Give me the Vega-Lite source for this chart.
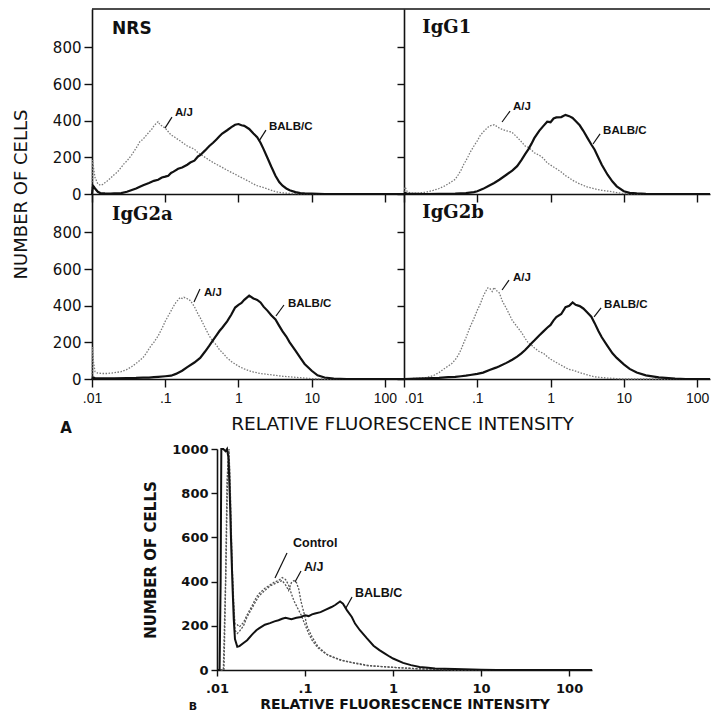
{
"$schema": "https://vega.github.io/schema/vega-lite/v6.json",
"padding": {"left": 12, "top": 8, "right": 0, "bottom": 0},
"background": "white",
"config": {
  "font": "DejaVu Sans",
  "view": {"stroke": null},
  "axis": {"grid": false, "domainColor": "#111", "domainWidth": 1.6, "tickColor": "#111", "tickWidth": 1.4, "labelColor": "#111", "titleColor": "#111", "labelFlush": false, "labelOverlap": false, "titleFontWeight": "normal", "labelFont": "DejaVu Sans", "titleFont": "DejaVu Sans"},
  "text": {"color": "#111"}
},
"datasets": {
  "NRS_AJ": [{"x":0.01,"n":15},{"x":0.0102,"n":185},{"x":0.0106,"n":130},{"x":0.011,"n":90},{"x":0.012,"n":55},{"x":0.013,"n":48},{"x":0.014,"n":52},{"x":0.015,"n":62},{"x":0.016,"n":70},{"x":0.018,"n":88},{"x":0.02,"n":105},{"x":0.022,"n":118},{"x":0.025,"n":145},{"x":0.028,"n":170},{"x":0.03,"n":180},{"x":0.035,"n":215},{"x":0.04,"n":250},{"x":0.045,"n":285},{"x":0.05,"n":300},{"x":0.055,"n":320},{"x":0.06,"n":338},{"x":0.065,"n":352},{"x":0.07,"n":372},{"x":0.075,"n":385},{"x":0.08,"n":395},{"x":0.085,"n":378},{"x":0.09,"n":372},{"x":0.1,"n":360},{"x":0.11,"n":340},{"x":0.12,"n":322},{"x":0.13,"n":315},{"x":0.14,"n":305},{"x":0.15,"n":298},{"x":0.17,"n":282},{"x":0.2,"n":262},{"x":0.22,"n":255},{"x":0.25,"n":245},{"x":0.28,"n":225},{"x":0.3,"n":218},{"x":0.35,"n":200},{"x":0.4,"n":185},{"x":0.45,"n":172},{"x":0.5,"n":162},{"x":0.6,"n":145},{"x":0.7,"n":130},{"x":0.8,"n":118},{"x":0.9,"n":108},{"x":1,"n":98},{"x":1.2,"n":82},{"x":1.4,"n":68},{"x":1.6,"n":55},{"x":1.8,"n":45},{"x":2,"n":40},{"x":2.5,"n":28},{"x":3,"n":16},{"x":3.5,"n":10},{"x":4,"n":6},{"x":5,"n":3},{"x":7,"n":1},{"x":10,"n":0},{"x":100,"n":0},{"x":182,"n":0}],
  "NRS_BALBC": [{"x":0.01,"n":0},{"x":0.0103,"n":45},{"x":0.0106,"n":40},{"x":0.011,"n":30},{"x":0.012,"n":12},{"x":0.013,"n":5},{"x":0.015,"n":3},{"x":0.018,"n":2},{"x":0.02,"n":3},{"x":0.025,"n":5},{"x":0.03,"n":12},{"x":0.035,"n":22},{"x":0.04,"n":30},{"x":0.045,"n":40},{"x":0.05,"n":48},{"x":0.06,"n":60},{"x":0.07,"n":72},{"x":0.08,"n":78},{"x":0.09,"n":90},{"x":0.1,"n":95},{"x":0.11,"n":100},{"x":0.12,"n":115},{"x":0.13,"n":122},{"x":0.15,"n":138},{"x":0.17,"n":145},{"x":0.2,"n":160},{"x":0.22,"n":172},{"x":0.25,"n":182},{"x":0.28,"n":205},{"x":0.3,"n":212},{"x":0.35,"n":238},{"x":0.4,"n":262},{"x":0.45,"n":280},{"x":0.5,"n":298},{"x":0.55,"n":315},{"x":0.6,"n":330},{"x":0.7,"n":348},{"x":0.8,"n":365},{"x":0.9,"n":378},{"x":1,"n":382},{"x":1.1,"n":375},{"x":1.2,"n":372},{"x":1.4,"n":355},{"x":1.6,"n":330},{"x":1.8,"n":310},{"x":2,"n":280},{"x":2.2,"n":245},{"x":2.5,"n":195},{"x":2.8,"n":150},{"x":3.2,"n":100},{"x":3.6,"n":65},{"x":4,"n":45},{"x":4.5,"n":30},{"x":5,"n":20},{"x":6,"n":10},{"x":7,"n":5},{"x":8,"n":3},{"x":10,"n":2},{"x":15,"n":0},{"x":182,"n":0}],
  "IGG1_AJ": [{"x":0.01,"n":10},{"x":0.0103,"n":38},{"x":0.0106,"n":30},{"x":0.011,"n":15},{"x":0.012,"n":6},{"x":0.014,"n":4},{"x":0.016,"n":5},{"x":0.018,"n":8},{"x":0.02,"n":10},{"x":0.022,"n":14},{"x":0.025,"n":20},{"x":0.028,"n":26},{"x":0.03,"n":30},{"x":0.035,"n":42},{"x":0.04,"n":55},{"x":0.045,"n":68},{"x":0.05,"n":80},{"x":0.055,"n":105},{"x":0.06,"n":130},{"x":0.065,"n":160},{"x":0.07,"n":182},{"x":0.075,"n":205},{"x":0.08,"n":228},{"x":0.09,"n":262},{"x":0.1,"n":290},{"x":0.11,"n":320},{"x":0.12,"n":338},{"x":0.13,"n":352},{"x":0.14,"n":365},{"x":0.15,"n":372},{"x":0.17,"n":378},{"x":0.18,"n":372},{"x":0.2,"n":360},{"x":0.22,"n":352},{"x":0.25,"n":345},{"x":0.28,"n":340},{"x":0.3,"n":335},{"x":0.35,"n":310},{"x":0.4,"n":285},{"x":0.45,"n":262},{"x":0.5,"n":255},{"x":0.55,"n":240},{"x":0.6,"n":225},{"x":0.7,"n":212},{"x":0.8,"n":195},{"x":0.9,"n":170},{"x":1,"n":158},{"x":1.2,"n":138},{"x":1.4,"n":120},{"x":1.6,"n":100},{"x":1.8,"n":88},{"x":2,"n":75},{"x":2.5,"n":55},{"x":3.2,"n":38},{"x":4,"n":28},{"x":5,"n":20},{"x":6,"n":16},{"x":8,"n":8},{"x":10,"n":2},{"x":15,"n":0},{"x":150,"n":0}],
  "IGG1_BALBC": [{"x":0.01,"n":0},{"x":0.0103,"n":5},{"x":0.011,"n":2},{"x":0.02,"n":0},{"x":0.03,"n":1},{"x":0.05,"n":2},{"x":0.07,"n":5},{"x":0.09,"n":10},{"x":0.1,"n":15},{"x":0.12,"n":28},{"x":0.14,"n":42},{"x":0.17,"n":60},{"x":0.2,"n":78},{"x":0.25,"n":105},{"x":0.3,"n":128},{"x":0.35,"n":152},{"x":0.4,"n":185},{"x":0.45,"n":218},{"x":0.5,"n":245},{"x":0.55,"n":275},{"x":0.6,"n":305},{"x":0.7,"n":345},{"x":0.8,"n":372},{"x":0.9,"n":395},{"x":1,"n":392},{"x":1.1,"n":412},{"x":1.2,"n":418},{"x":1.4,"n":420},{"x":1.6,"n":432},{"x":1.8,"n":425},{"x":2,"n":415},{"x":2.2,"n":398},{"x":2.5,"n":375},{"x":2.8,"n":345},{"x":3.2,"n":305},{"x":3.6,"n":270},{"x":4,"n":242},{"x":4.5,"n":198},{"x":5,"n":160},{"x":6,"n":105},{"x":7,"n":68},{"x":8,"n":42},{"x":10,"n":15},{"x":12,"n":6},{"x":15,"n":3},{"x":20,"n":1},{"x":30,"n":0},{"x":150,"n":0}],
  "IGG2A_AJ": [{"x":0.01,"n":10},{"x":0.0102,"n":175},{"x":0.0105,"n":90},{"x":0.011,"n":40},{"x":0.012,"n":32},{"x":0.014,"n":30},{"x":0.016,"n":30},{"x":0.018,"n":32},{"x":0.02,"n":34},{"x":0.025,"n":40},{"x":0.03,"n":52},{"x":0.035,"n":68},{"x":0.04,"n":85},{"x":0.045,"n":102},{"x":0.05,"n":118},{"x":0.055,"n":140},{"x":0.06,"n":165},{"x":0.065,"n":185},{"x":0.07,"n":200},{"x":0.08,"n":235},{"x":0.09,"n":275},{"x":0.1,"n":315},{"x":0.11,"n":345},{"x":0.12,"n":372},{"x":0.13,"n":398},{"x":0.14,"n":418},{"x":0.15,"n":432},{"x":0.16,"n":445},{"x":0.17,"n":440},{"x":0.18,"n":446},{"x":0.2,"n":438},{"x":0.22,"n":428},{"x":0.25,"n":395},{"x":0.28,"n":355},{"x":0.3,"n":335},{"x":0.35,"n":280},{"x":0.4,"n":235},{"x":0.45,"n":205},{"x":0.5,"n":185},{"x":0.55,"n":160},{"x":0.6,"n":145},{"x":0.7,"n":115},{"x":0.8,"n":95},{"x":0.9,"n":82},{"x":1,"n":70},{"x":1.2,"n":55},{"x":1.4,"n":45},{"x":1.6,"n":38},{"x":2,"n":30},{"x":2.5,"n":25},{"x":3.2,"n":20},{"x":4,"n":15},{"x":5,"n":12},{"x":6,"n":9},{"x":8,"n":5},{"x":10,"n":2},{"x":15,"n":0},{"x":182,"n":0}],
  "IGG2A_BALBC": [{"x":0.01,"n":0},{"x":0.0103,"n":8},{"x":0.011,"n":5},{"x":0.015,"n":3},{"x":0.02,"n":3},{"x":0.03,"n":5},{"x":0.04,"n":6},{"x":0.05,"n":8},{"x":0.06,"n":8},{"x":0.07,"n":10},{"x":0.08,"n":12},{"x":0.1,"n":15},{"x":0.12,"n":18},{"x":0.14,"n":28},{"x":0.17,"n":45},{"x":0.2,"n":65},{"x":0.25,"n":90},{"x":0.3,"n":115},{"x":0.35,"n":150},{"x":0.4,"n":182},{"x":0.45,"n":212},{"x":0.5,"n":238},{"x":0.55,"n":262},{"x":0.6,"n":280},{"x":0.7,"n":315},{"x":0.8,"n":352},{"x":0.9,"n":390},{"x":1,"n":405},{"x":1.1,"n":415},{"x":1.2,"n":432},{"x":1.4,"n":455},{"x":1.6,"n":440},{"x":1.8,"n":432},{"x":2,"n":418},{"x":2.2,"n":395},{"x":2.5,"n":372},{"x":2.8,"n":348},{"x":3.2,"n":325},{"x":3.6,"n":290},{"x":4,"n":260},{"x":4.5,"n":232},{"x":5,"n":200},{"x":6,"n":155},{"x":7,"n":115},{"x":8,"n":82},{"x":10,"n":45},{"x":12,"n":20},{"x":15,"n":8},{"x":20,"n":2},{"x":30,"n":0},{"x":182,"n":0}],
  "IGG2B_AJ": [{"x":0.01,"n":0},{"x":0.011,"n":2},{"x":0.015,"n":3},{"x":0.02,"n":8},{"x":0.025,"n":18},{"x":0.03,"n":35},{"x":0.035,"n":55},{"x":0.04,"n":70},{"x":0.045,"n":85},{"x":0.05,"n":105},{"x":0.055,"n":130},{"x":0.06,"n":160},{"x":0.065,"n":195},{"x":0.07,"n":225},{"x":0.08,"n":285},{"x":0.09,"n":330},{"x":0.1,"n":375},{"x":0.11,"n":410},{"x":0.12,"n":450},{"x":0.13,"n":478},{"x":0.14,"n":498},{"x":0.15,"n":492},{"x":0.16,"n":478},{"x":0.17,"n":500},{"x":0.18,"n":485},{"x":0.2,"n":470},{"x":0.22,"n":425},{"x":0.25,"n":385},{"x":0.28,"n":345},{"x":0.3,"n":320},{"x":0.35,"n":285},{"x":0.4,"n":255},{"x":0.45,"n":222},{"x":0.5,"n":195},{"x":0.55,"n":185},{"x":0.6,"n":170},{"x":0.7,"n":150},{"x":0.8,"n":140},{"x":0.9,"n":122},{"x":1,"n":108},{"x":1.2,"n":90},{"x":1.4,"n":75},{"x":1.6,"n":62},{"x":1.8,"n":52},{"x":2,"n":48},{"x":2.5,"n":35},{"x":3.2,"n":22},{"x":4,"n":12},{"x":5,"n":8},{"x":6,"n":5},{"x":8,"n":2},{"x":10,"n":0},{"x":150,"n":0}],
  "IGG2B_BALBC": [{"x":0.01,"n":0},{"x":0.015,"n":2},{"x":0.02,"n":4},{"x":0.03,"n":6},{"x":0.04,"n":10},{"x":0.05,"n":12},{"x":0.06,"n":15},{"x":0.07,"n":18},{"x":0.08,"n":22},{"x":0.1,"n":28},{"x":0.12,"n":35},{"x":0.15,"n":50},{"x":0.18,"n":62},{"x":0.2,"n":70},{"x":0.25,"n":88},{"x":0.3,"n":105},{"x":0.35,"n":122},{"x":0.4,"n":140},{"x":0.45,"n":158},{"x":0.5,"n":178},{"x":0.55,"n":195},{"x":0.6,"n":210},{"x":0.7,"n":238},{"x":0.8,"n":260},{"x":0.9,"n":280},{"x":1,"n":295},{"x":1.1,"n":320},{"x":1.2,"n":338},{"x":1.4,"n":355},{"x":1.6,"n":392},{"x":1.8,"n":400},{"x":2,"n":418},{"x":2.2,"n":405},{"x":2.5,"n":398},{"x":2.8,"n":385},{"x":3.2,"n":362},{"x":3.6,"n":340},{"x":4,"n":305},{"x":4.5,"n":262},{"x":5,"n":228},{"x":6,"n":180},{"x":7,"n":140},{"x":8,"n":115},{"x":10,"n":80},{"x":12,"n":55},{"x":15,"n":35},{"x":20,"n":20},{"x":30,"n":9},{"x":50,"n":2},{"x":70,"n":0},{"x":150,"n":0}],
  "B_CONTROL": [{"x":0.01,"n":0},{"x":0.0118,"n":0},{"x":0.0125,"n":400},{"x":0.013,"n":850},{"x":0.0135,"n":980},{"x":0.014,"n":900},{"x":0.0145,"n":650},{"x":0.015,"n":420},{"x":0.0155,"n":290},{"x":0.016,"n":210},{"x":0.017,"n":205},{"x":0.018,"n":195},{"x":0.02,"n":215},{"x":0.022,"n":250},{"x":0.025,"n":290},{"x":0.028,"n":330},{"x":0.03,"n":345},{"x":0.035,"n":370},{"x":0.04,"n":385},{"x":0.045,"n":398},{"x":0.05,"n":405},{"x":0.055,"n":418},{"x":0.06,"n":410},{"x":0.065,"n":385},{"x":0.07,"n":345},{"x":0.075,"n":312},{"x":0.08,"n":290},{"x":0.09,"n":250},{"x":0.1,"n":205},{"x":0.11,"n":165},{"x":0.12,"n":135},{"x":0.14,"n":100},{"x":0.17,"n":75},{"x":0.2,"n":60},{"x":0.25,"n":45},{"x":0.3,"n":38},{"x":0.4,"n":30},{"x":0.5,"n":22},{"x":0.6,"n":18},{"x":0.8,"n":15},{"x":1,"n":12},{"x":1.5,"n":8},{"x":2,"n":5},{"x":3,"n":3},{"x":5,"n":1},{"x":10,"n":0},{"x":182,"n":0}],
  "B_AJ": [{"x":0.01,"n":0},{"x":0.012,"n":0},{"x":0.0127,"n":500},{"x":0.0132,"n":900},{"x":0.0137,"n":1000},{"x":0.0142,"n":780},{"x":0.0148,"n":500},{"x":0.0155,"n":300},{"x":0.016,"n":180},{"x":0.017,"n":165},{"x":0.018,"n":175},{"x":0.02,"n":200},{"x":0.022,"n":240},{"x":0.025,"n":280},{"x":0.028,"n":315},{"x":0.03,"n":335},{"x":0.035,"n":360},{"x":0.04,"n":380},{"x":0.045,"n":390},{"x":0.05,"n":398},{"x":0.055,"n":405},{"x":0.06,"n":385},{"x":0.065,"n":360},{"x":0.07,"n":395},{"x":0.075,"n":405},{"x":0.08,"n":395},{"x":0.085,"n":365},{"x":0.09,"n":310},{"x":0.1,"n":240},{"x":0.105,"n":200},{"x":0.12,"n":150},{"x":0.14,"n":106},{"x":0.18,"n":68},{"x":0.26,"n":45},{"x":0.37,"n":30},{"x":0.5,"n":20},{"x":0.7,"n":16},{"x":1,"n":12},{"x":1.5,"n":8},{"x":2,"n":5},{"x":3,"n":3},{"x":5,"n":1},{"x":10,"n":0},{"x":182,"n":0}],
  "B_BALBC": [{"x":0.01,"n":0},{"x":0.0107,"n":0},{"x":0.011,"n":400},{"x":0.0112,"n":1000},{"x":0.0118,"n":1000},{"x":0.0125,"n":990},{"x":0.013,"n":1000},{"x":0.0135,"n":960},{"x":0.014,"n":780},{"x":0.0145,"n":560},{"x":0.015,"n":380},{"x":0.0155,"n":230},{"x":0.016,"n":140},{"x":0.017,"n":105},{"x":0.018,"n":108},{"x":0.02,"n":122},{"x":0.022,"n":135},{"x":0.025,"n":160},{"x":0.028,"n":180},{"x":0.03,"n":188},{"x":0.035,"n":205},{"x":0.04,"n":212},{"x":0.045,"n":220},{"x":0.05,"n":225},{"x":0.055,"n":232},{"x":0.06,"n":236},{"x":0.07,"n":230},{"x":0.08,"n":236},{"x":0.09,"n":240},{"x":0.1,"n":248},{"x":0.11,"n":244},{"x":0.12,"n":252},{"x":0.13,"n":256},{"x":0.15,"n":262},{"x":0.17,"n":272},{"x":0.2,"n":285},{"x":0.22,"n":294},{"x":0.25,"n":310},{"x":0.27,"n":300},{"x":0.3,"n":270},{"x":0.34,"n":240},{"x":0.37,"n":210},{"x":0.42,"n":180},{"x":0.5,"n":145},{"x":0.6,"n":110},{"x":0.7,"n":90},{"x":0.8,"n":75},{"x":0.92,"n":60},{"x":1,"n":52},{"x":1.3,"n":32},{"x":1.6,"n":22},{"x":2,"n":14},{"x":2.5,"n":10},{"x":3,"n":7},{"x":5,"n":4},{"x":8,"n":2},{"x":10,"n":1},{"x":15,"n":0},{"x":182,"n":0}],
  "notes": [
    {"panel":"NRS","label":"A/J","x":0.132,"n":442,"x1":0.0992,"n1":360,"x2":0.1236,"n2":420},
    {"panel":"NRS","label":"BALB/C","x":2.53,"n":366,"x1":1.905,"n1":289,"x2":2.37,"n2":349},
    {"panel":"IgG1","label":"A/J","x":0.298,"n":475,"x1":0.218,"n1":393,"x2":0.28,"n2":453},
    {"panel":"IgG1","label":"BALB/C","x":5.05,"n":344,"x1":3.8,"n1":273,"x2":4.74,"n2":328},
    {"panel":"IgG2a","label":"A/J","x":0.327,"n":470,"x1":0.247,"n1":420,"x2":0.298,"n2":491},
    {"panel":"IgG2a","label":"BALB/C","x":4.59,"n":409,"x1":3.25,"n1":344,"x2":4.18,"n2":404},
    {"panel":"IgG2b","label":"A/J","x":0.298,"n":551,"x1":0.218,"n1":486,"x2":0.271,"n2":540},
    {"panel":"IgG2b","label":"BALB/C","x":5.21,"n":404,"x1":3.93,"n1":339,"x2":4.89,"n2":388},
    {"panel":"B","label":"Control","x":0.0711,"n":575,"x1":0.0456,"n1":416,"x2":0.0624,"n2":529},
    {"panel":"B","label":"A/J","x":0.0949,"n":466,"x1":0.0769,"n1":398,"x2":0.09,"n2":448},
    {"panel":"B","label":"BALB/C","x":0.36,"n":348,"x1":0.292,"n1":281,"x2":0.342,"n2":330}
  ]
},
"columns": 2,
"bounds": "flush",
"spacing": 0,
"concat": [
  {
    "width": 312, "height": 185,
    "layer": [
      {"data": {"name": "NRS_AJ"}, "mark": {"type": "line", "stroke": "#7a7a7a", "strokeWidth": 1.3, "strokeDash": [1.5, 1.5]},
       "encoding": {
         "x": {"field": "x", "type": "quantitative", "scale": {"type": "log", "domain": [0.01, 182], "nice": false}, "axis": {"values": [0.01, 0.1, 1, 10, 100], "labels": false, "title": null, "tickSize": 8}},
         "y": {"field": "n", "type": "quantitative", "scale": {"domain": [0, 1010], "nice": false, "zero": false}, "axis": {"values": [0, 200, 400, 600, 800], "labelFontSize": 15, "labelPadding": 3, "tickSize": 8, "title": "NUMBER OF CELLS", "titleFontSize": 18, "titleX": -71, "titleY": 185, "titleBaseline": "middle", "titleAlign": "center", "titleAngle": 270}}}},
      {"data": {"name": "NRS_BALBC"}, "mark": {"type": "line", "stroke": "#111", "strokeWidth": 2.2},
       "encoding": {"x": {"field": "x", "type": "quantitative"}, "y": {"field": "n", "type": "quantitative"}}},
      {"data": {"name": "notes"}, "transform": [{"filter": "datum.panel === 'NRS'"}], "mark": {"type": "rule", "stroke": "#111", "strokeWidth": 1.2},
       "encoding": {"x": {"field": "x1", "type": "quantitative"}, "y": {"field": "n1", "type": "quantitative"}, "x2": {"field": "x2"}, "y2": {"field": "n2"}}},
      {"data": {"name": "notes"}, "transform": [{"filter": "datum.panel === 'NRS'"}], "mark": {"type": "text", "align": "left", "baseline": "middle", "font": "Liberation Sans", "fontWeight": "bold", "fontSize": 11.5, "dx": 1},
       "encoding": {"x": {"field": "x", "type": "quantitative"}, "y": {"field": "n", "type": "quantitative"}, "text": {"field": "label"}}},
      {"data": {"values": [{}]}, "mark": {"type": "text", "align": "left", "baseline": "middle", "fontWeight": "bold", "fontSize": 17},
       "encoding": {"x": {"datum": 0.0188}, "y": {"datum": 900}, "text": {"value": "NRS"}}},
      {"data": {"values": [{}]}, "mark": {"type": "rule", "stroke": "#111", "strokeWidth": 1.5},
       "encoding": {"y": {"datum": 1010}}}
    ]
  },
  {
    "width": 306, "height": 185,
    "layer": [
      {"data": {"name": "IGG1_AJ"}, "mark": {"type": "line", "stroke": "#7a7a7a", "strokeWidth": 1.3, "strokeDash": [1.5, 1.5]},
       "encoding": {
         "x": {"field": "x", "type": "quantitative", "scale": {"type": "log", "domain": [0.01, 150], "nice": false}, "axis": {"values": [0.01, 0.1, 1, 10, 100], "labels": false, "title": null, "tickSize": 8}},
         "y": {"field": "n", "type": "quantitative", "scale": {"domain": [0, 1010], "nice": false, "zero": false}, "axis": {"values": [0, 200, 400, 600, 800], "labels": false, "tickSize": 7, "title": null}}}},
      {"data": {"name": "IGG1_BALBC"}, "mark": {"type": "line", "stroke": "#111", "strokeWidth": 2.2},
       "encoding": {"x": {"field": "x", "type": "quantitative"}, "y": {"field": "n", "type": "quantitative"}}},
      {"data": {"name": "notes"}, "transform": [{"filter": "datum.panel === 'IgG1'"}], "mark": {"type": "rule", "stroke": "#111", "strokeWidth": 1.2},
       "encoding": {"x": {"field": "x1", "type": "quantitative"}, "y": {"field": "n1", "type": "quantitative"}, "x2": {"field": "x2"}, "y2": {"field": "n2"}}},
      {"data": {"name": "notes"}, "transform": [{"filter": "datum.panel === 'IgG1'"}], "mark": {"type": "text", "align": "left", "baseline": "middle", "font": "Liberation Sans", "fontWeight": "bold", "fontSize": 11.5, "dx": 1},
       "encoding": {"x": {"field": "x", "type": "quantitative"}, "y": {"field": "n", "type": "quantitative"}, "text": {"field": "label"}}},
      {"data": {"values": [{}]}, "mark": {"type": "text", "align": "left", "baseline": "middle", "font": "DejaVu Serif", "fontWeight": "bold", "fontSize": 18},
       "encoding": {"x": {"datum": 0.0178}, "y": {"datum": 905}, "text": {"value": "IgG1"}}},
      {"data": {"values": [{}]}, "mark": {"type": "rule", "stroke": "#111", "strokeWidth": 1.5},
       "encoding": {"y": {"datum": 1010}}}
    ]
  },
  {
    "width": 312, "height": 185,
    "layer": [
      {"data": {"name": "IGG2A_AJ"}, "mark": {"type": "line", "stroke": "#7a7a7a", "strokeWidth": 1.3, "strokeDash": [1.5, 1.5]},
       "encoding": {
         "x": {"field": "x", "type": "quantitative", "scale": {"type": "log", "domain": [0.01, 182], "nice": false}, "axis": {"values": [0.01, 0.1, 1, 10, 100], "labelExpr": "datum.value < 1 ? replace(format(datum.value, '.2~f'), '0.', '.') : format(datum.value, 'd')", "labelFont": "Liberation Sans", "labelFontSize": 14, "labelPadding": 4, "tickSize": 8, "title": "RELATIVE FLUORESCENCE INTENSITY", "titleFontSize": 18.5, "titleX": 310, "titleY": 44, "titleBaseline": "middle", "titleAlign": "center"}},
         "y": {"field": "n", "type": "quantitative", "scale": {"domain": [0, 1010], "nice": false, "zero": false}, "axis": {"values": [0, 200, 400, 600, 800], "labelFontSize": 15, "labelPadding": 3, "tickSize": 8, "title": null}}}},
      {"data": {"name": "IGG2A_BALBC"}, "mark": {"type": "line", "stroke": "#111", "strokeWidth": 2.2},
       "encoding": {"x": {"field": "x", "type": "quantitative"}, "y": {"field": "n", "type": "quantitative"}}},
      {"data": {"name": "notes"}, "transform": [{"filter": "datum.panel === 'IgG2a'"}], "mark": {"type": "rule", "stroke": "#111", "strokeWidth": 1.2},
       "encoding": {"x": {"field": "x1", "type": "quantitative"}, "y": {"field": "n1", "type": "quantitative"}, "x2": {"field": "x2"}, "y2": {"field": "n2"}}},
      {"data": {"name": "notes"}, "transform": [{"filter": "datum.panel === 'IgG2a'"}], "mark": {"type": "text", "align": "left", "baseline": "middle", "font": "Liberation Sans", "fontWeight": "bold", "fontSize": 11.5, "dx": 1},
       "encoding": {"x": {"field": "x", "type": "quantitative"}, "y": {"field": "n", "type": "quantitative"}, "text": {"field": "label"}}},
      {"data": {"values": [{}]}, "mark": {"type": "text", "align": "left", "baseline": "middle", "font": "DejaVu Serif", "fontWeight": "bold", "fontSize": 18},
       "encoding": {"x": {"datum": 0.0188}, "y": {"datum": 895}, "text": {"value": "IgG2a"}}},
      {"data": {"values": [{}]}, "mark": {"type": "text", "align": "center", "baseline": "middle", "fontWeight": "bold", "fontSize": 15},
       "encoding": {"x": {"datum": 0.00442}, "y": {"datum": -268}, "text": {"value": "A"}}}
    ]
  },
  {
    "width": 306, "height": 185,
    "layer": [
      {"data": {"name": "IGG2B_AJ"}, "mark": {"type": "line", "stroke": "#7a7a7a", "strokeWidth": 1.3, "strokeDash": [1.5, 1.5]},
       "encoding": {
         "x": {"field": "x", "type": "quantitative", "scale": {"type": "log", "domain": [0.01, 150], "nice": false}, "axis": {"values": [0.01, 0.1, 1, 10, 100], "labelExpr": "datum.value < 1 ? replace(format(datum.value, '.2~f'), '0.', '.') : format(datum.value, 'd')", "labelFont": "Liberation Sans", "labelFontSize": 14, "labelPadding": 4, "labelFlush": true, "tickSize": 8, "title": null}},
         "y": {"field": "n", "type": "quantitative", "scale": {"domain": [0, 1010], "nice": false, "zero": false}, "axis": {"values": [0, 200, 400, 600, 800], "labels": false, "tickSize": 7, "title": null}}}},
      {"data": {"name": "IGG2B_BALBC"}, "mark": {"type": "line", "stroke": "#111", "strokeWidth": 2.2},
       "encoding": {"x": {"field": "x", "type": "quantitative"}, "y": {"field": "n", "type": "quantitative"}}},
      {"data": {"name": "notes"}, "transform": [{"filter": "datum.panel === 'IgG2b'"}], "mark": {"type": "rule", "stroke": "#111", "strokeWidth": 1.2},
       "encoding": {"x": {"field": "x1", "type": "quantitative"}, "y": {"field": "n1", "type": "quantitative"}, "x2": {"field": "x2"}, "y2": {"field": "n2"}}},
      {"data": {"name": "notes"}, "transform": [{"filter": "datum.panel === 'IgG2b'"}], "mark": {"type": "text", "align": "left", "baseline": "middle", "font": "Liberation Sans", "fontWeight": "bold", "fontSize": 11.5, "dx": 1},
       "encoding": {"x": {"field": "x", "type": "quantitative"}, "y": {"field": "n", "type": "quantitative"}, "text": {"field": "label"}}},
      {"data": {"values": [{}]}, "mark": {"type": "text", "align": "left", "baseline": "middle", "font": "DejaVu Serif", "fontWeight": "bold", "fontSize": 18},
       "encoding": {"x": {"datum": 0.0178}, "y": {"datum": 905}, "text": {"value": "IgG2b"}}}
    ]
  },
  {"width": 312, "height": 70, "data": {"values": [{}]}, "mark": {"type": "point", "opacity": 0}},
  {"width": 306, "height": 70, "data": {"values": [{}]}, "mark": {"type": "point", "opacity": 0}},
  {
    "width": 312, "height": 221,
    "layer": [
      {"data": {"name": "B_CONTROL"}, "mark": {"type": "line", "stroke": "#555", "strokeWidth": 1.3, "strokeDash": [2, 1.5]},
       "encoding": {
         "x": {"field": "x", "type": "quantitative", "scale": {"type": "log", "domain": [0.01, 182], "range": [125, 500], "nice": false}, "axis": {"values": [0.01, 0.1, 1, 10, 100], "labelExpr": "datum.value < 1 ? replace(format(datum.value, '.2~f'), '0.', '.') : format(datum.value, 'd')", "labelFontSize": 13, "labelFontWeight": "bold", "labelPadding": 6, "tickSize": 6, "title": "RELATIVE FLUORESCENCE INTENSITY", "titleFontSize": 14, "titleFontWeight": "bold", "titleY": 34, "titleBaseline": "middle"}},
         "y": {"field": "n", "type": "quantitative", "scale": {"domain": [0, 1000], "nice": false, "zero": false}, "axis": {"values": [0, 200, 400, 600, 800, 1000], "format": "d", "offset": -125, "labelFontSize": 13, "labelFontWeight": "bold", "labelPadding": 3, "tickSize": 6, "title": "NUMBER OF CELLS", "titleFontSize": 15, "titleFontWeight": "bold", "titleX": -67, "titleBaseline": "middle", "titleAngle": 270}}}},
      {"data": {"name": "B_AJ"}, "mark": {"type": "line", "stroke": "#555", "strokeWidth": 1.3, "strokeDash": [2, 1.5]},
       "encoding": {"x": {"field": "x", "type": "quantitative"}, "y": {"field": "n", "type": "quantitative"}}},
      {"data": {"name": "B_BALBC"}, "mark": {"type": "line", "stroke": "#111", "strokeWidth": 2},
       "encoding": {"x": {"field": "x", "type": "quantitative"}, "y": {"field": "n", "type": "quantitative"}}},
      {"data": {"name": "notes"}, "transform": [{"filter": "datum.panel === 'B'"}], "mark": {"type": "rule", "stroke": "#111", "strokeWidth": 1.2},
       "encoding": {"x": {"field": "x1", "type": "quantitative"}, "y": {"field": "n1", "type": "quantitative"}, "x2": {"field": "x2"}, "y2": {"field": "n2"}}},
      {"data": {"name": "notes"}, "transform": [{"filter": "datum.panel === 'B'"}], "mark": {"type": "text", "align": "left", "baseline": "middle", "font": "Liberation Sans", "fontWeight": "bold", "fontSize": 12.5, "dx": 1},
       "encoding": {"x": {"field": "x", "type": "quantitative"}, "y": {"field": "n", "type": "quantitative"}, "text": {"field": "label"}}},
      {"data": {"values": [{}]}, "mark": {"type": "text", "align": "center", "baseline": "middle", "fontWeight": "bold", "fontSize": 11},
       "encoding": {"x": {"datum": 0.00533}, "y": {"datum": -167}, "text": {"value": "B"}}}
    ]
  }
]
}
